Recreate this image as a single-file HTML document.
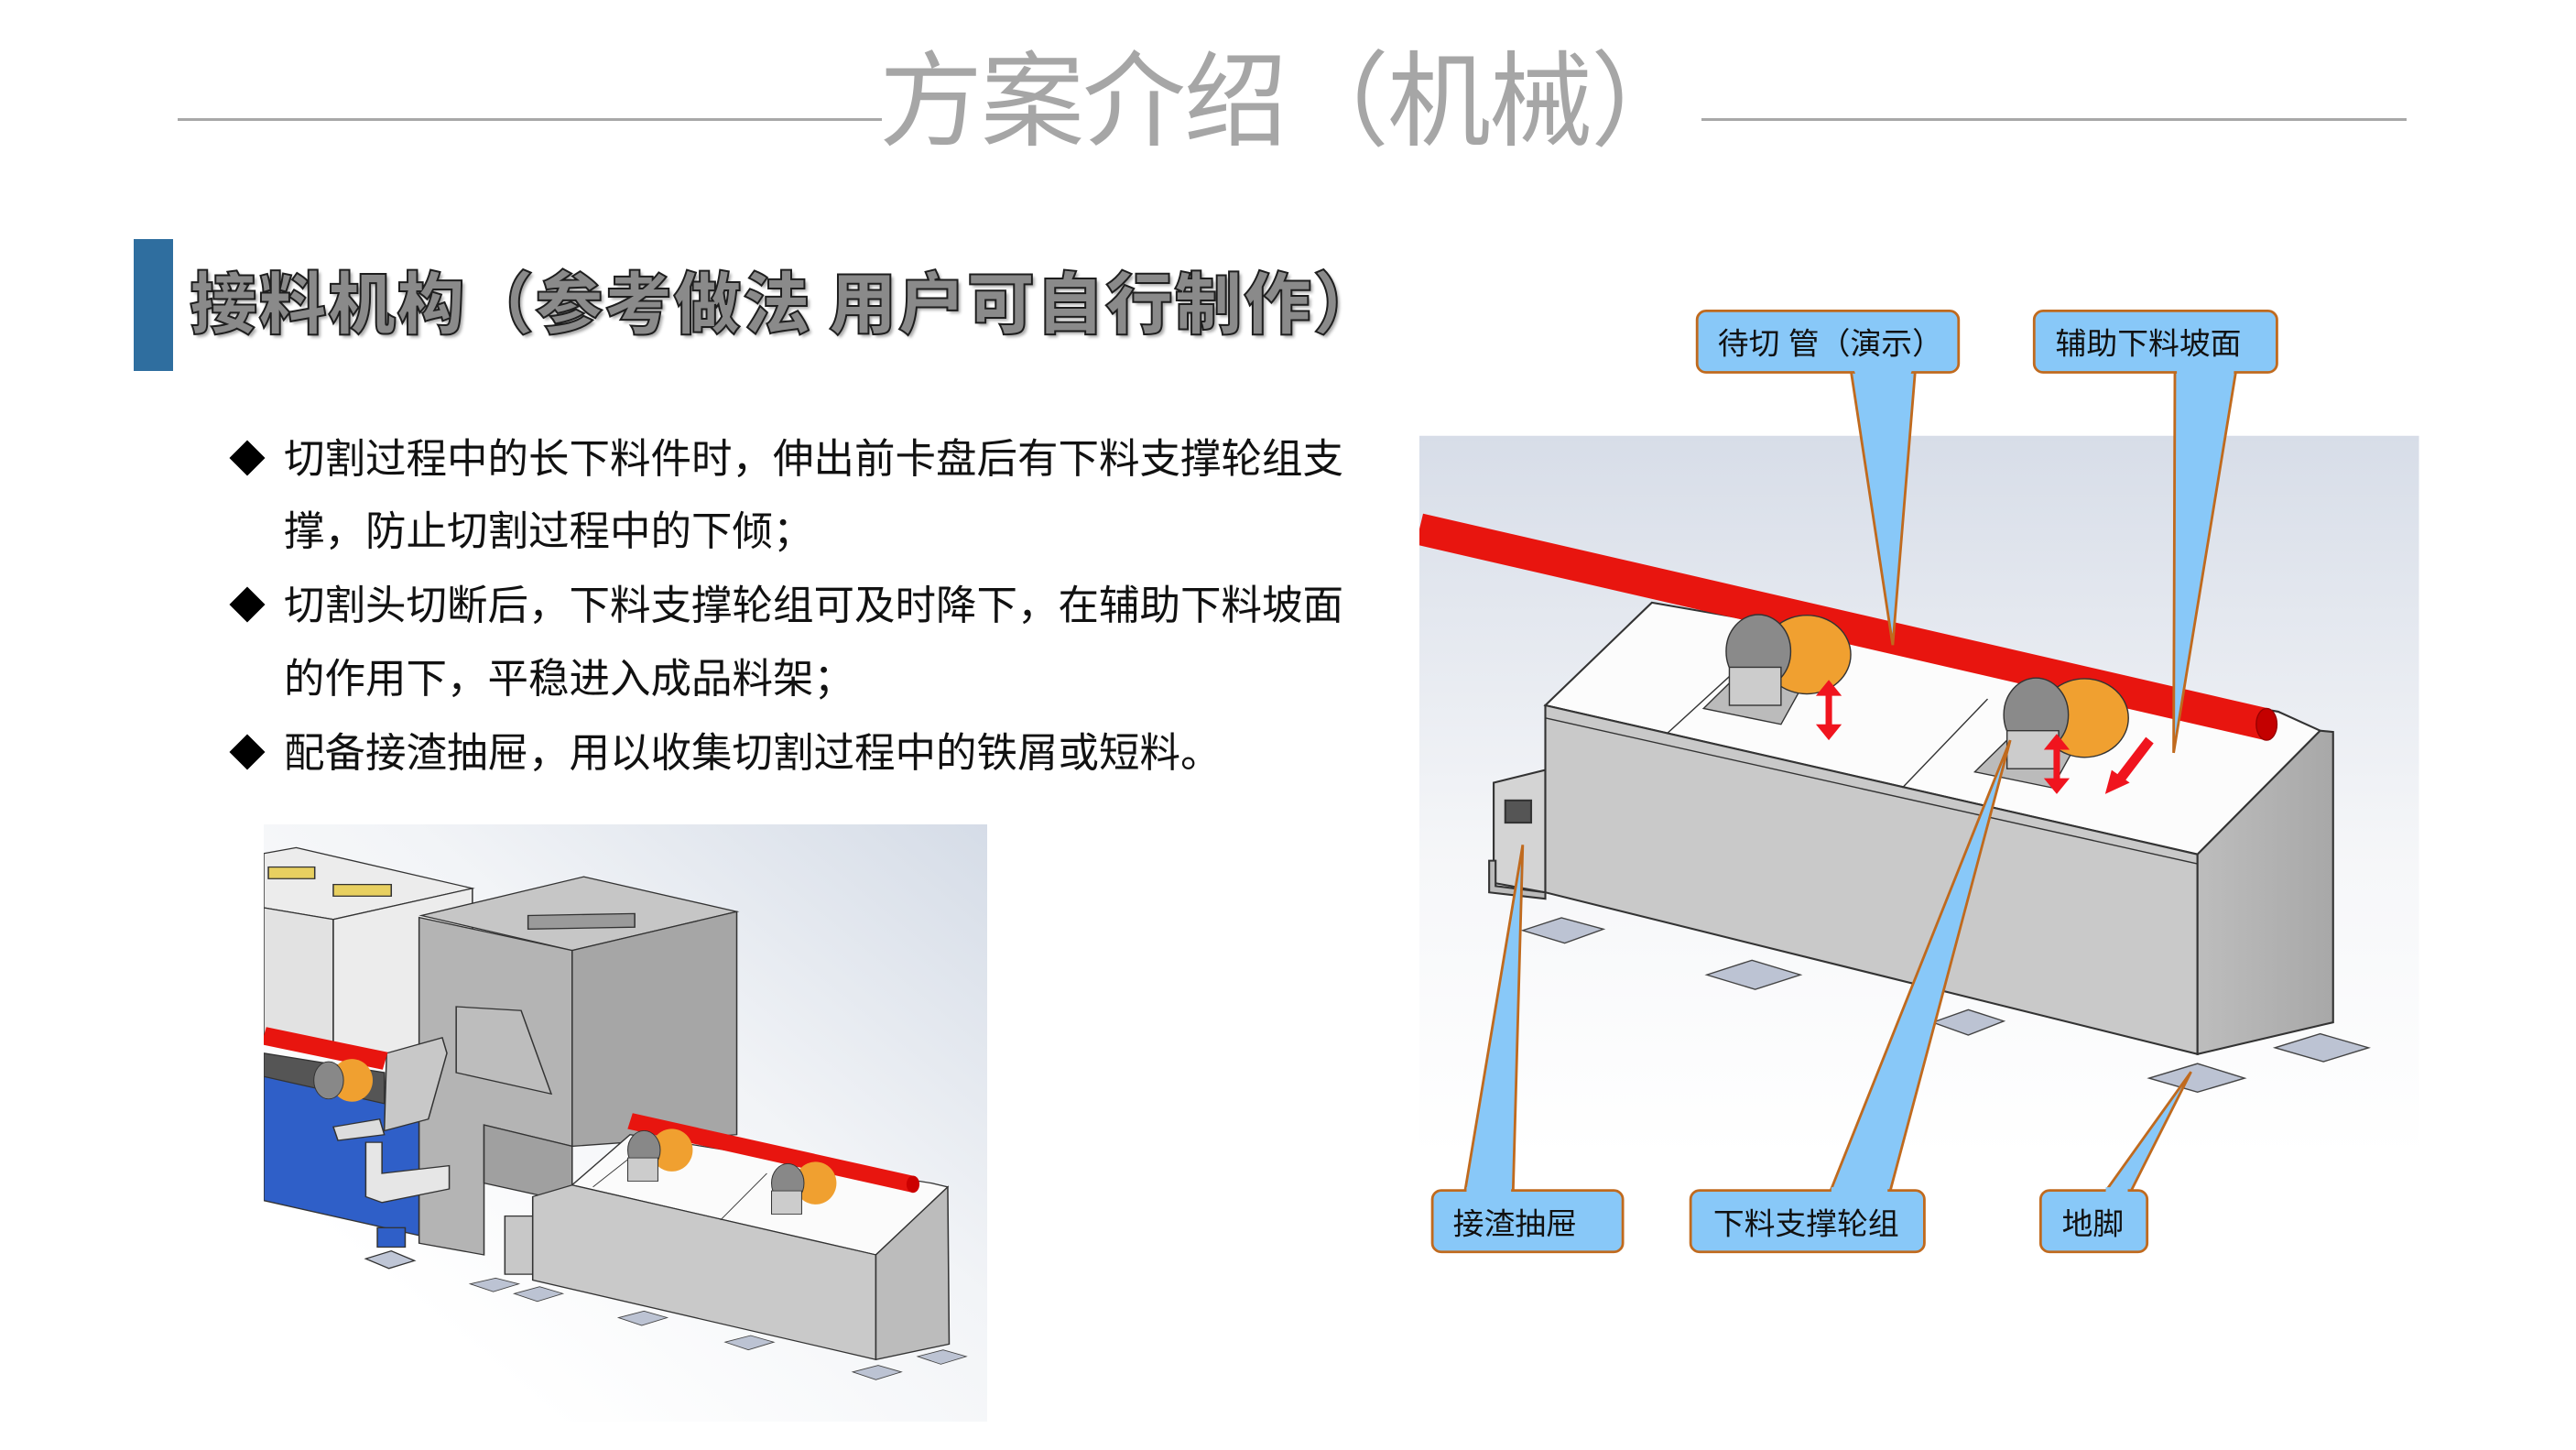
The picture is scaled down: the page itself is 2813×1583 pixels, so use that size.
<!DOCTYPE html>
<html><head><meta charset="utf-8">
<style>
html,body{margin:0;padding:0;background:#fff;}
body{width:2813px;height:1583px;position:relative;overflow:hidden;font-family:"Liberation Sans","Noto Sans CJK SC",sans-serif;}
.t{position:absolute;white-space:nowrap;}
.ln{position:absolute;height:3px;background:#a8a8a8;top:129px;}
.b{position:absolute;left:310px;font-size:44.5px;color:#111;line-height:60px;white-space:nowrap;}
.d{position:absolute;left:250px;font-size:40px;line-height:60px;color:#000;}
svg{position:absolute;}
</style></head><body>
<div class="ln" style="left:194px;width:769px"></div>
<div class="ln" style="left:1858px;width:770px"></div>
<div class="t" style="left:960px;top:36px;font-size:113px;line-height:130px;color:#a6a6a6;font-weight:400;font-family:'Noto Sans CJK SC',sans-serif;letter-spacing:-2px">方案介绍（机械）</div>
<div style="position:absolute;left:146px;top:261px;width:43px;height:144px;background:#2f6e9f"></div>
<div class="t" style="left:207px;top:282px;font-size:74px;line-height:90px;font-weight:900;color:#8a8a8a;-webkit-text-stroke:2px #1e1e1e;text-shadow:3px 3px 3px #aaa;font-family:'Noto Sans CJK SC',sans-serif;letter-spacing:1.5px">接料机构（参考做法 用户可自行制作）</div>

<div class="d" style="top:472px">◆</div>
<div class="b" style="top:472px">切割过程中的长下料件时，伸出前卡盘后有下料支撑轮组支</div>
<div class="b" style="top:551px">撑，防止切割过程中的下倾；</div>
<div class="d" style="top:632px">◆</div>
<div class="b" style="top:632px">切割头切断后，下料支撑轮组可及时降下，在辅助下料坡面</div>
<div class="b" style="top:712px">的作用下，平稳进入成品料架；</div>
<div class="d" style="top:793px">◆</div>
<div class="b" style="top:793px">配备接渣抽屉，用以收集切割过程中的铁屑或短料。</div>

<!-- left image -->
<svg style="left:288px;top:900px" width="790" height="652" viewBox="0 0 1560 1540" preserveAspectRatio="none">
<defs>
<linearGradient id="lg" x1="0.2" y1="0.8" x2="1" y2="0"><stop offset="0" stop-color="#fff"/><stop offset="0.5" stop-color="#f2f4f7"/><stop offset="1" stop-color="#d5dce7"/></linearGradient>
</defs>
<rect x="0" y="0" width="1560" height="1540" fill="url(#lg)"/>
<g stroke="#333" stroke-width="3">
<polygon points="0,75 70,60 450,165 150,245 0,215" fill="#ececec"/>
<polygon points="0,215 150,245 150,600 0,560" fill="#e2e2e2"/>
<polygon points="150,245 450,165 450,600 150,600" fill="#ececec"/>
<rect x="10" y="110" width="100" height="30" fill="#e8d060"/>
<rect x="150" y="155" width="125" height="30" fill="#e8d060"/>
<polygon points="0,600 335,700 335,1060 0,970" fill="#2f5fc8"/>
<polygon points="0,590 260,640 260,720 0,650" fill="#555"/>
<rect x="245" y="1040" width="60" height="50" fill="#2f5fc8"/>
<polygon points="220,1120 275,1100 325,1125 270,1145" fill="#bfc6d6"/>
<polygon points="340,235 690,135 1020,225 665,325" fill="#c6c6c6"/>
<polygon points="335,240 665,325 665,830 475,775 475,1110 335,1080" fill="#b4b4b4"/>
<polygon points="665,325 1020,225 1020,800 665,830" fill="#a6a6a6"/>
<polygon points="475,775 665,830 665,975 475,925" fill="#a0a0a0"/>
<polygon points="415,470 555,480 620,695 415,640" fill="#bdbdbd"/>
<polygon points="570,235 800,230 800,265 570,270" fill="#9a9a9a"/>
<polygon points="265,590 385,550 395,590 355,760 260,790" fill="#c8c8c8"/>
<polygon points="150,780 250,760 260,800 160,815" fill="#ddd"/>
<polygon points="220,820 255,820 255,900 400,880 400,940 255,975 220,960" fill="#e6e6e6"/>
<rect x="520" y="1010" width="60" height="150" fill="#c8c8c8"/>
<polygon points="665,930 790,800 1440,925 1475,935 1320,1110" fill="#fbfbfb"/>
<polygon points="580,960 665,930 1320,1110 1320,1380 580,1175" fill="#c9c9c9"/>
<polygon points="1320,1110 1475,935 1478,1340 1320,1380" fill="#bcbcbc"/>
<line x1="710" y1="935" x2="800" y2="850" stroke-width="2"/>
<line x1="985" y1="1020" x2="1085" y2="900" stroke-width="2"/>
</g>
<g fill="#bcc3d3" stroke="#444" stroke-width="2">
<polygon points="445,1185 500,1170 550,1185 495,1205"/>
<polygon points="540,1210 595,1192 645,1210 590,1230"/>
<polygon points="765,1272 820,1255 870,1272 815,1292"/>
<polygon points="995,1335 1050,1318 1100,1335 1045,1355"/>
<polygon points="1270,1412 1325,1395 1375,1412 1320,1432"/>
<polygon points="1410,1372 1465,1355 1515,1372 1460,1392"/>
</g>
<line x1="0" y1="545" x2="262" y2="610" stroke="#e8150f" stroke-width="46"/>
<line x1="790" y1="765" x2="1400" y2="928" stroke="#e8150f" stroke-width="42"/>
<ellipse cx="1400" cy="928" rx="14" ry="22" fill="#c00"/>
<g>
<ellipse cx="880" cy="840" rx="45" ry="55" fill="#f0a030"/>
<ellipse cx="820" cy="840" rx="35" ry="50" fill="#888" stroke="#333" stroke-width="2"/>
<rect x="785" y="860" width="65" height="60" fill="#ccc" stroke="#333" stroke-width="2"/>
<ellipse cx="1190" cy="925" rx="45" ry="55" fill="#f0a030"/>
<ellipse cx="1130" cy="925" rx="35" ry="50" fill="#888" stroke="#333" stroke-width="2"/>
<rect x="1095" y="945" width="65" height="60" fill="#ccc" stroke="#333" stroke-width="2"/>
<ellipse cx="190" cy="660" rx="45" ry="55" fill="#f0a030"/>
<ellipse cx="140" cy="660" rx="32" ry="48" fill="#888" stroke="#333" stroke-width="2"/>
</g>
</svg>

<!-- right image -->
<svg style="left:1550px;top:320px" width="1100" height="1080" viewBox="0 0 1560 1560" preserveAspectRatio="none">
<defs>
<linearGradient id="rg" x1="0" y1="0" x2="0" y2="1"><stop offset="0" stop-color="#d7dde8"/><stop offset="0.6" stop-color="#f6f7f9"/><stop offset="1" stop-color="#fff"/></linearGradient>
<linearGradient id="sg" x1="0" y1="0" x2="1" y2="0"><stop offset="0" stop-color="#bdbdbd"/><stop offset="1" stop-color="#a8a8a8"/></linearGradient>
</defs>
<rect x="0" y="225" width="1548" height="1135" fill="url(#rg)"/>
<g fill="#bcc3d3" stroke="#444" stroke-width="2">
<polygon points="160,1005 220,985 285,1003 225,1025"/>
<polygon points="445,1075 515,1052 590,1075 520,1098"/>
<polygon points="795,1150 850,1130 905,1148 850,1170"/>
<polygon points="1130,1238 1205,1215 1278,1238 1205,1260"/>
<polygon points="1325,1190 1395,1168 1470,1190 1400,1212"/>
</g>
<g stroke="#333" stroke-width="3">
<polygon points="115,772 195,752 195,945 115,930" fill="#d4d4d4"/>
<polygon points="108,895 118,895 118,935 195,945 195,955 108,945" fill="#bbb"/>
<rect x="133" y="800" width="40" height="35" fill="#555"/>
<polygon points="195,650 360,488 1330,660 1395,690 1205,885" fill="#fcfcfc"/>
<polygon points="195,650 1205,885 1205,1200 195,945" fill="#c9c9c9"/>
<polygon points="1205,885 1395,690 1415,692 1415,1150 1205,1200" fill="url(#sg)"/>
<line x1="383" y1="695" x2="560" y2="530" stroke-width="2"/>
<line x1="748" y1="780" x2="880" y2="640" stroke-width="2"/>
<line x1="195" y1="670" x2="1205" y2="900" stroke-width="2"/>
</g>
<line x1="0" y1="372" x2="1312" y2="680" stroke="#e8150f" stroke-width="50"/>
<ellipse cx="1312" cy="680" rx="16" ry="25" fill="#c40000" stroke="#900" stroke-width="2"/>
<g stroke="#333" stroke-width="2">
<polygon points="440,655 490,605 590,625 560,680" fill="#bbb"/>
<ellipse cx="600" cy="570" rx="68" ry="62" fill="#f0a030"/>
<ellipse cx="525" cy="565" rx="50" ry="58" fill="#8a8a8a"/>
<rect x="480" y="590" width="80" height="60" fill="#ccc"/>
<polygon points="860,755 910,705 1010,725 980,780" fill="#bbb"/>
<ellipse cx="1030" cy="670" rx="68" ry="62" fill="#f0a030"/>
<ellipse cx="955" cy="665" rx="50" ry="58" fill="#8a8a8a"/>
<rect x="910" y="690" width="80" height="60" fill="#ccc"/>
</g>
<g fill="#f0141e">
<rect x="629" y="630" width="10" height="55"/><polygon points="614,635 634,610 654,635"/><polygon points="614,680 634,705 654,680"/>
<rect x="982" y="715" width="10" height="55"/><polygon points="967,720 987,695 1007,720"/><polygon points="967,765 987,790 1007,765"/>
<polygon points="1125,700 1137,710 1092,770 1080,760"/><polygon points="1062,790 1072,752 1100,772"/>
</g>
<g fill="#88c8f8" stroke="#c06a1e" stroke-width="4">
<polygon points="668,120 768,120 733,555"/>
<polygon points="1170,120 1265,120 1168,725"/>
<polygon points="70,1420 145,1420 160,870"/>
<polygon points="635,1420 728,1420 915,705"/>
<polygon points="1060,1420 1100,1420 1195,1228"/>
<rect x="430" y="28" width="405" height="97" rx="14"/>
<rect x="952" y="28" width="376" height="97" rx="14"/>
<rect x="20" y="1415" width="295" height="97" rx="14"/>
<rect x="420" y="1415" width="362" height="97" rx="14"/>
<rect x="962" y="1415" width="165" height="97" rx="14"/>
</g>
<g fill="#88c8f8">
<polygon points="671,115 765,115 760,130 676,130"/>
<polygon points="1173,115 1262,115 1261,130 1173,130"/>
<polygon points="73,1410 142,1410 142,1425 73,1425"/>
<polygon points="638,1410 725,1410 725,1425 638,1425"/>
<polygon points="1063,1410 1097,1410 1097,1425 1063,1425"/>
</g>
<g font-family="Liberation Sans, Noto Sans CJK SC, sans-serif" font-size="48" fill="#111">
<text x="462" y="96">待切 管（演示）</text>
<text x="985" y="96">辅助下料坡面</text>
<text x="52" y="1484">接渣抽屉</text>
<text x="455" y="1484">下料支撑轮组</text>
<text x="995" y="1484">地脚</text>
</g>
</svg>
</body></html>
